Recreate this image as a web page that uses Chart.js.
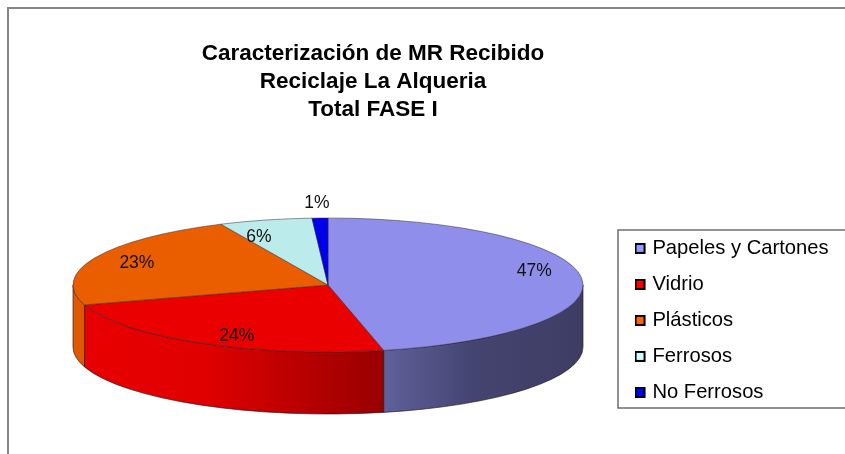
<!DOCTYPE html>
<html><head><meta charset="utf-8">
<style>html,body{margin:0;padding:0;background:#fff}canvas{display:block}</style>
<script src="https://cdn.jsdelivr.net/npm/chart.js@4/dist/chart.umd.min.js"></script>
</head><body><canvas id="c" width="845" height="454"></canvas>
<script>
const titleLines = ["Caracterización de MR Recibido", "Reciclaje La Alqueria", "Total FASE I"];
const categories = ["Papeles y Cartones", "Vidrio", "Plásticos", "Ferrosos", "No Ferrosos"];
const values = [46.5, 23.7, 22.9, 5.9, 1.0];
const topColors = ["#8F8FEB", "#EB0000", "#EB5E00", "#BCEBEB", "#0000EB"];
const legendColors = ["#9999FF", "#FF0000", "#FF6600", "#CCFFFF", "#0000FF"];
const sideStops = [
  [[0, "#60609C"], [0.45, "#444470"], [1, "#3D3D64"]],
  [[0, "#E80000"], [0.4, "#E00000"], [1, "#980000"]],
  [[0, "#E25A00"], [1, "#DD5800"]],
  [[0, "#BCEBEB"], [1, "#BCEBEB"]],
  [[0, "#0000EB"], [1, "#0000EB"]]
];
// label anchor: fraction of radius along the slice's mid-angle, then a pixel nudge
const labelRadial = [0.81, 0.714, 0.82, 0.8, 1.25];
const labelNudge = [[1, -8], [0, 10], [0, 0], [-19, 4], [-1, 2]];

const PIE = { cx: 328, cy: 285, ry: 67, depth: 62 };
const FRAME = { x: 8, y: 8 };
const LEGEND_BOX = { x: 618, top: 230, bottom: 408 };

function swatch(color) {
  const s = document.createElement("canvas");
  s.width = 15; s.height = 11;
  const g = s.getContext("2d");
  g.fillStyle = "#000"; g.fillRect(0, 0, 11, 11);
  g.fillStyle = color; g.fillRect(2, 2, 7, 7);
  return s;
}

const pie3d = {
  id: "pie3d",
  afterLayout(chart) {
    const lg = chart.legend, t = chart.titleBlock;
    const lh = lg.bottom - lg.top, lw = lg.right - lg.left;
    lg.left = 626; lg.right = lg.left + lw;
    lg.top = 222.5; lg.bottom = lg.top + lh;
    t.left = 0; t.right = 746;
  },
  beforeDraw(chart) {
    const c = chart.ctx;
    c.save();
    c.strokeStyle = "#868686"; c.lineWidth = 2;
    c.beginPath();
    c.moveTo(FRAME.x, chart.height + 2); c.lineTo(FRAME.x, FRAME.y); c.lineTo(chart.width + 2, FRAME.y);
    c.stroke();
    c.strokeStyle = "#6E6E6E"; c.lineWidth = 1.5;
    c.beginPath();
    c.moveTo(chart.width + 2, LEGEND_BOX.top); c.lineTo(LEGEND_BOX.x, LEGEND_BOX.top);
    c.lineTo(LEGEND_BOX.x, LEGEND_BOX.bottom); c.lineTo(chart.width + 2, LEGEND_BOX.bottom);
    c.stroke();
    c.restore();
  },
  beforeDatasetDraw(chart, args) {
    const c = chart.ctx, arcs = args.meta.data;
    const rx = arcs[0].outerRadius, ry = PIE.ry;
    c.save();
    arcs.forEach((a, i) => {
      const a0 = Math.max(a.startAngle, 0), a1 = Math.min(a.endAngle, Math.PI);
      if (a1 <= a0) return;
      const x0 = PIE.cx + rx * Math.cos(a1), x1 = PIE.cx + rx * Math.cos(a0);
      const lo = Math.min(x0, x1), hi = Math.max(x0, x1);
      const edgeLo = a1 >= Math.PI ? PIE.cx - rx : lo, edgeHi = a0 <= 0 ? PIE.cx + rx : hi;
      const g = c.createLinearGradient(edgeLo, 0, edgeHi, 0);
      sideStops[i].forEach(s => g.addColorStop(s[0], s[1]));
      c.beginPath();
      c.ellipse(PIE.cx, PIE.cy, rx, ry, 0, a0, a1);
      c.ellipse(PIE.cx, PIE.cy + PIE.depth, rx, ry, 0, a1, a0, true);
      c.closePath();
      c.fillStyle = g; c.fill();
      c.strokeStyle = "rgba(30,20,30,0.8)"; c.lineWidth = 0.8; c.stroke();
    });
    c.restore();
    c.save();
    c.translate(PIE.cx, PIE.cy);
    c.scale(1, ry / rx);
    c.translate(-arcs[0].x, -arcs[0].y);
  },
  afterDatasetDraw(chart, args) {
    const c = chart.ctx, arcs = args.meta.data;
    c.restore();
    const rx = arcs[0].outerRadius;
    c.save();
    c.font = "17.5px 'Liberation Sans', Arial, sans-serif";
    c.fillStyle = "#111";
    c.textAlign = "center"; c.textBaseline = "middle";
    const total = values.reduce((s, v) => s + v, 0);
    arcs.forEach((a, i) => {
      const m = (a.startAngle + a.endAngle) / 2, f = labelRadial[i];
      const x = PIE.cx + f * rx * Math.cos(m) + labelNudge[i][0];
      const y = PIE.cy + f * PIE.ry * Math.sin(m) + labelNudge[i][1];
      c.fillText(Math.round(values[i] / total * 100) + "%", x, y);
    });
    c.restore();
  }
};

new Chart(document.getElementById("c"), {
  type: "pie",
  data: {
    labels: categories,
    datasets: [{ data: values, backgroundColor: topColors, borderColor: "#2a2a3a", borderWidth: 0.8, clip: false }]
  },
  plugins: [pie3d],
  options: {
    responsive: false,
    animation: false,
    radius: 255,
    rotation: 0,
    plugins: {
      tooltip: { enabled: false },
      title: {
        display: true,
        text: titleLines,
        color: "#000",
        font: { family: "'Liberation Sans', Arial, sans-serif", size: 22.5, weight: "bold", lineHeight: 1.235 },
        padding: { top: 40, bottom: 10 }
      },
      legend: {
        position: "right",
        align: "start",
        labels: {
          color: "#000",
          font: { family: "'Liberation Sans', Arial, sans-serif", size: 20.2 },
          usePointStyle: true,
          boxWidth: 0.5,
          boxHeight: 11,
          padding: 15.8,
          generateLabels: () => categories.map((name, i) => ({
            text: name, pointStyle: swatch(legendColors[i]), datasetIndex: 0, index: i,
            lineWidth: 0, hidden: false
          }))
        }
      }
    }
  }
});
</script></body></html>
